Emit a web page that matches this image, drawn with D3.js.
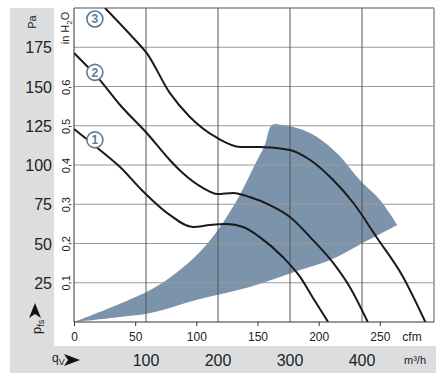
<!DOCTYPE html>
<html>
<head>
<meta charset="utf-8">
<script src="https://cdn.jsdelivr.net/npm/d3@7"></script>
<style>
  body { margin: 0; background: #fff; }
  text { font-family: "Liberation Sans Narrow", "Arial Narrow", "Liberation Sans", sans-serif; fill: #222; }
</style>
</head>
<body>
<div id="chart"></div>
<script>
// fan curves: [flow m3/h, pressure Pa]
var curve1 = [[0,122.9],[36,109.6],[64,98.7],[94,84.1],[133,68.2],[165,60.5],[189,61.8],[212,62.4],[235,60.5],[258,54.1],[290,41.4],[314,28.7],[332,15.3],[353,0]];
var curve2 = [[0,171.3],[36,154.1],[64,138.2],[101,120.4],[133,103.2],[151,94.9],[179,85.4],[199,81.5],[221,82.2],[244,79.6],[272,74.5],[300,66.9],[328,54.1],[360,37.6],[383,22.3],[408,0]];
var curve3 = [[43,200],[85,179.6],[101,171.3],[133,145.9],[161,130.6],[199,117.2],[231,111.5],[258,111.5],[300,109.6],[328,103.2],[360,90.4],[388,75.8],[421,53.5],[457,28.7],[488,0]];
var curves = [curve1, curve2, curve3];
var curveLabels = ["1", "2", "3"];
var badgePos = [[29, 116], [29, 159], [29, 193]];

// operating range (shaded)
var rangeUpper = [[0,0],[106,20.4],[147,33.1],[186,50.3],[224,75.8],[251,100],[265,112.7],[275,125.5]];
var rangeTop = [[275,125.5],[290,125.5],[328,120.4],[365,107.6],[397,90.4],[425,77.7],[449,61.8]];
var rangeLower = [[449,61.8],[401,50.3],[356,39.5],[314,33.1],[244,22.3],[175,14.6],[106,5.7],[64,3.2],[0,0]];

var paTicks = [25, 50, 75, 100, 125, 150, 175];
var inTicks = [0.1, 0.2, 0.3, 0.4, 0.5, 0.6];
var flowTicks = [100, 200, 300, 400];
var cfmTicks = [0, 50, 100, 150, 200, 250];

var W = 444, H = 380;
var x0 = 74, x1 = 434, y0 = 322, y1 = 8;

var svg = d3.select("#chart").append("svg")
    .attr("width", W).attr("height", H);

// gray frame
svg.append("rect").attr("x", 10).attr("y", 8).attr("width", 44).attr("height", 338).attr("fill", "#dcdddf");
svg.append("rect").attr("x", 10).attr("y", 346).attr("width", 426).attr("height", 27).attr("fill", "#dcdddf");

var x = d3.scaleLinear().domain([0, 500]).range([x0, x1]);
var y = d3.scaleLinear().domain([0, 200]).range([y0, y1]);
var xCfm = d3.scaleLinear().domain([0, 500 / 1.699]).range([x0, x1]);
var yIn = d3.scaleLinear().domain([0, 200 / 249.09]).range([y0, y1]);

svg.append("clipPath").attr("id", "clip")
    .append("rect").attr("x", x0).attr("y", y1).attr("width", x1 - x0).attr("height", y0 - y1);

// shaded range
var sline = d3.line().x(function(d){ return x(d[0]); }).y(function(d){ return y(d[1]); }).curve(d3.curveCatmullRom);
var upperPath = sline(rangeUpper.concat(rangeTop.slice(1)));
var lowerPath = sline(rangeLower).replace(/^M/, "L");
svg.append("path").attr("d", upperPath + lowerPath + "Z").attr("fill", "#7c94ab");

// grid
svg.selectAll("hgrid").data(paTicks).enter().append("line")
    .attr("x1", x0).attr("x2", x1)
    .attr("y1", function(d){ return y(d); }).attr("y2", function(d){ return y(d); })
    .attr("stroke", "#999").attr("stroke-width", 1);
svg.selectAll("vgrid").data(flowTicks).enter().append("line")
    .attr("x1", function(d){ return x(d); }).attr("x2", function(d){ return x(d); })
    .attr("y1", y1).attr("y2", y0)
    .attr("stroke", "#555").attr("stroke-width", 1);
svg.append("line").attr("x1", x0).attr("x2", x1).attr("y1", y1).attr("y2", y1).attr("stroke", "#555");
svg.append("line").attr("x1", x1).attr("x2", x1).attr("y1", y1).attr("y2", y0).attr("stroke", "#aaa").attr("stroke-width", 2);
svg.append("line").attr("x1", x0).attr("x2", x0).attr("y1", y1).attr("y2", y0).attr("stroke", "#333");

// fan curves
var line = d3.line()
    .x(function(d){ return x(d[0]); })
    .y(function(d){ return y(d[1]); })
    .curve(d3.curveMonotoneX);
svg.append("g").attr("clip-path", "url(#clip)")
    .selectAll("curves").data(curves).enter().append("path")
    .attr("d", function(d){ return line(d); })
    .attr("fill", "none").attr("stroke", "#1a1a1a").attr("stroke-width", 2);

// curve number badges
var badge = svg.selectAll("badges").data(badgePos).enter().append("g")
    .attr("transform", function(d){ return "translate(" + x(d[0]) + "," + y(d[1]) + ")"; });
badge.append("circle").attr("r", 8).attr("fill", "#fff").attr("stroke", "#5b7a98").attr("stroke-width", 1.6);
badge.append("text").attr("text-anchor", "middle").attr("dy", "0.36em")
    .style("font-size", "12px").style("font-weight", "bold").style("fill", "#5b7a98")
    .text(function(d, i){ return curveLabels[i]; });

// bottom axis line + cfm axis
svg.append("line").attr("x1", x0).attr("x2", x1).attr("y1", y0).attr("y2", y0).attr("stroke", "#333");
var cfmAxis = svg.append("g").attr("transform", "translate(0," + y0 + ")")
    .call(d3.axisBottom(xCfm).tickValues(cfmTicks).tickSize(4).tickPadding(6).tickFormat(d3.format("d")));
cfmAxis.select(".domain").remove();
cfmAxis.selectAll("line").attr("stroke", "#333");
cfmAxis.selectAll("text").style("font-size", "12px").style("fill", "#222")
    .style("font-family", "'Liberation Sans Narrow', 'Liberation Sans', sans-serif");
svg.append("text").attr("x", 412).attr("y", 341).attr("text-anchor", "middle").style("font-size", "12px").text("cfm");

// m3/h labels in bottom band
svg.selectAll("flowlab").data(flowTicks).enter().append("text")
    .attr("x", function(d){ return x(d); }).attr("y", 366)
    .attr("text-anchor", "middle").style("font-size", "16px")
    .text(function(d){ return d; });
svg.append("text").attr("x", 415).attr("y", 364).attr("text-anchor", "middle").style("font-size", "11px").text("m³/h");
var qv = svg.append("text").attr("x", 52).attr("y", 362).style("font-size", "12px");
qv.append("tspan").text("q");
qv.append("tspan").attr("dy", 3).style("font-size", "9px").text("V");
svg.append("path").attr("d", "M64,354 L80,360 L64,366 L68,360 Z").attr("fill", "#111");

// Pa labels
svg.selectAll("palab").data(paTicks).enter().append("text")
    .attr("x", 52).attr("y", function(d){ return y(d); }).attr("dy", "0.38em")
    .attr("text-anchor", "end").style("font-size", "16px")
    .text(function(d){ return d; });
svg.append("text").attr("transform", "translate(36,22) rotate(-90)")
    .attr("text-anchor", "middle").style("font-size", "11px").text("Pa");

// in H2O labels
svg.selectAll("inlab").data(inTicks).enter().append("text")
    .attr("transform", function(d){ return "translate(70," + yIn(d) + ") rotate(-90)"; })
    .attr("text-anchor", "middle").style("font-size", "11px")
    .text(function(d){ return d3.format(".1f")(d).replace(".", ","); });
var inh = svg.append("text").attr("transform", "translate(69,28) rotate(-90)")
    .attr("text-anchor", "middle").style("font-size", "11px");
inh.append("tspan").text("in H");
inh.append("tspan").attr("dy", 3).style("font-size", "8px").text("2");
inh.append("tspan").attr("dy", -3).text("O");

// p_fs label with up arrow
var pfs = svg.append("text").attr("transform", "translate(41,334) rotate(-90)").style("font-size", "13px");
pfs.append("tspan").text("p");
pfs.append("tspan").attr("dy", 3).style("font-size", "9px").text("fs");
svg.append("path").attr("d", "M29,318 L35,303 L41,318 L35,314 Z").attr("fill", "#111");
</script>
</body>
</html>
